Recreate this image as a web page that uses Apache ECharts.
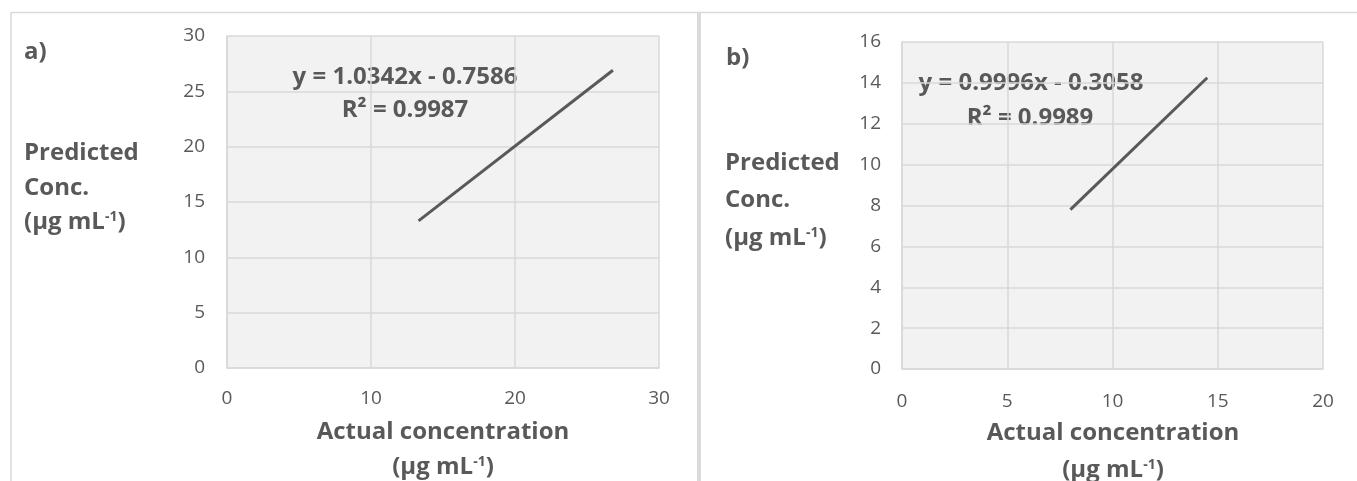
<!DOCTYPE html>
<html><head><meta charset="utf-8">
<script src="https://cdn.jsdelivr.net/npm/echarts@6/dist/echarts.min.js"></script>
<style>html,body{margin:0;padding:0;background:#fff}#c{width:1357px;height:481px}</style>
</head><body><div id="c"></div>
<script>
// Chart a) trendline end points (actual, predicted)
const actualA = [13.3, 26.8];
const predictedA = [13.3, 26.9];
// Chart b)
const actualB = [8.0, 14.5];
const predictedB = [7.8, 14.25];
const eqA = ['y = 1.0342x - 0.7586', 'R² = 0.9987'];
const eqB = ['y = 0.9996x - 0.3058', 'R² = 0.9989'];
const xTicksA = {min: 0, max: 30, interval: 10};
const yTicksA = {min: 0, max: 30, interval: 5};
const xTicksB = {min: 0, max: 20, interval: 5};
const yTicksB = {min: 0, max: 16, interval: 2};
const panelLabels = ['a)', 'b)'];
const yTitle = ['Predicted', 'Conc.'];
const xTitle = 'Actual concentration';

const FONT = '"Open Sans", "Liberation Sans", sans-serif';
const TXT = '#595959';
const GRIDC = '#d9d9d9';

function axisCommon(t, idx, margin) {
  return Object.assign({
    type: 'value', gridIndex: idx,
    axisLine: {show: true, lineStyle: {color: GRIDC, width: 1.5}},
    axisTick: {show: false},
    splitLine: {show: true, lineStyle: {color: GRIDC, width: 1.5}},
    axisLabel: {color: TXT, fontSize: 19, fontFamily: FONT, margin: margin}
  }, t);
}
function txt(text, x, y, align, size, bold) {
  return {type: 'text', x: x, y: y, style: {text: text, fill: TXT, fontSize: size || 24,
    fontWeight: bold === false ? 'normal' : 'bold', fontFamily: FONT, align: align || 'left', verticalAlign: 'middle'}};
}
function unitTxt(x, y, align) {
  return {type: 'text', x: x, y: y, style: {
    text: '{n|(µg mL}{s|-1}{n|)}', align: align, verticalAlign: 'middle',
    rich: {
      n: {fill: TXT, fontSize: 24, fontWeight: 'bold', fontFamily: FONT},
      s: {fill: TXT, fontSize: 14, fontWeight: 'bold', fontFamily: FONT, verticalAlign: 'top', padding: [0, 0, 10, 0]}
    }}};
}

const chart = echarts.init(document.getElementById('c'), null, {renderer: 'canvas'});
chart.setOption({
  animation: false,
  backgroundColor: '#fff',
  grid: [
    {left: 227, top: 36, width: 432, height: 332, show: true, backgroundColor: '#f2f2f2', borderWidth: 0},
    {left: 902, top: 42, width: 421, height: 327, show: true, backgroundColor: '#f2f2f2', borderWidth: 0}
  ],
  xAxis: [axisCommon(xTicksA, 0, 21), axisCommon(xTicksB, 1, 23)],
  yAxis: [axisCommon(yTicksA, 0, 22), axisCommon(yTicksB, 1, 21)],
  series: [
    {type: 'line', xAxisIndex: 0, yAxisIndex: 0, symbol: 'none',
     lineStyle: {color: TXT, width: 3}, data: actualA.map((x, i) => [x, predictedA[i]])},
    {type: 'line', xAxisIndex: 1, yAxisIndex: 1, symbol: 'none',
     lineStyle: {color: TXT, width: 3}, data: actualB.map((x, i) => [x, predictedB[i]])}
  ],
  graphic: [
    {type: 'line', shape: {x1: 11, y1: 12.5, x2: 1357, y2: 12.5}, style: {stroke: GRIDC, lineWidth: 1.5}},
    {type: 'line', shape: {x1: 11, y1: 12, x2: 11, y2: 481}, style: {stroke: GRIDC, lineWidth: 1.5}},
    {type: 'rect', shape: {x: 697, y: 12, width: 4, height: 470}, style: {fill: '#dadada'}},
    txt(panelLabels[0], 24, 52),
    txt(yTitle[0], 24, 153), txt(yTitle[1], 24, 188), unitTxt(24, 222, 'left'),
    txt(eqA[0], 405, 77, 'center'), txt(eqA[1], 405, 110, 'center'),
    txt(xTitle, 443, 432, 'center'), unitTxt(443, 467, 'center'),
    txt(panelLabels[1], 726, 58),
    txt(yTitle[0], 725, 163), txt(yTitle[1], 725, 200), unitTxt(725, 238, 'left'),
    txt(eqB[0], 1031, 83, 'center'), txt(eqB[1], 1030, 118, 'center'),
    txt(xTitle, 1113, 433, 'center'), unitTxt(1113, 470, 'center')
  ]
});
</script></body></html>
